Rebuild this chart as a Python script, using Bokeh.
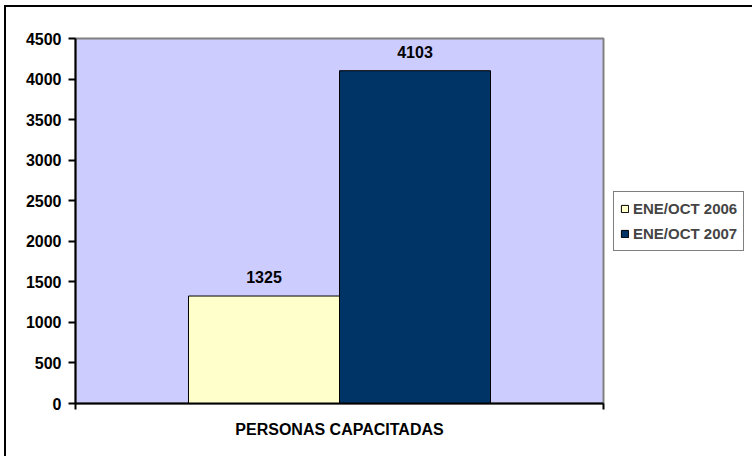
from bokeh.plotting import figure
from bokeh.models import (FactorRange, Range1d, LinearAxis, FixedTicker, Legend,
                          LegendItem, ColumnDataSource)
from bokeh.transform import dodge
from bokeh.core.properties import value
from bokeh.embed import file_html
from bokeh.resources import INLINE

categories = ["PERSONAS CAPACITADAS"]
series = ["ENE/OCT 2006", "ENE/OCT 2007"]
values_2006 = [1325]
values_2007 = [4103]
colors = ["#FFFFCC", "#003366"]
y_ticks = [0, 500, 1000, 1500, 2000, 2500, 3000, 3500, 4000, 4500]

FONT = "Liberation Sans"
FS = "16px"
bar_w = 0.286

p = figure(x_range=FactorRange(factors=categories, range_padding=0),
           y_range=Range1d(0, 4500),
           frame_width=528, frame_height=365,
           min_border_left=69, min_border_right=10,
           min_border_top=31, min_border_bottom=53,
           output_backend="svg", toolbar_location=None,
           x_axis_type=None, y_axis_type=None)

p.styles = {"margin-left": "4px", "margin-top": "5px",
            "border-left": "2px solid #000000", "border-top": "2px solid #000000"}

p.background_fill_color = "#CCCCFF"
p.border_fill_color = "white"
p.outline_line_color = "#808080"
p.outline_line_width = 2
p.xgrid.visible = False
p.ygrid.visible = False

# y axis
yax = LinearAxis(ticker=FixedTicker(ticks=y_ticks))
yax.axis_line_color = "black"
yax.axis_line_width = 2
yax.major_tick_line_color = "black"
yax.major_tick_line_width = 2
yax.major_tick_out = 7
yax.major_tick_in = 0
yax.minor_tick_line_color = None
yax.major_label_text_font = FONT
yax.major_label_text_font_style = "bold"
yax.major_label_text_font_size = FS
yax.major_label_text_color = "black"
yax.major_label_standoff = 7
p.add_layout(yax, "left")

# x axis: ticks at the category edges, category name as label
xax = LinearAxis(ticker=FixedTicker(ticks=[0, len(categories)]))
xax.major_label_overrides = {0: "", len(categories): ""}
xax.major_label_text_font_size = "1px"
xax.axis_line_color = "black"
xax.axis_line_width = 2
xax.major_tick_line_color = "black"
xax.major_tick_line_width = 2
xax.major_tick_out = 6
xax.major_tick_in = 0
xax.minor_tick_line_color = None
xax.axis_label = categories[0]
xax.axis_label_text_font = FONT
xax.axis_label_text_font_style = "bold"
xax.axis_label_text_font_size = FS
xax.axis_label_text_color = "black"
xax.axis_label_standoff = 11
p.add_layout(xax, "below")

src06 = ColumnDataSource(dict(cat=categories, val=values_2006,
                              lbl=[str(v) for v in values_2006]))
src07 = ColumnDataSource(dict(cat=categories, val=values_2007,
                              lbl=[str(v) for v in values_2007]))

r06 = p.vbar(x=dodge("cat", -bar_w / 2, range=p.x_range), top="val", width=bar_w,
             source=src06, fill_color=colors[0], line_color="black", line_width=1)
r07 = p.vbar(x=dodge("cat", bar_w / 2, range=p.x_range), top="val", width=bar_w,
             source=src07, fill_color=colors[1], line_color="black", line_width=1)

for src, off in ((src06, -bar_w / 2), (src07, bar_w / 2)):
    p.text(x=dodge("cat", off, range=p.x_range), y="val", text="lbl", source=src,
           text_align="center", text_baseline="bottom", y_offset=-13,
           text_font=value(FONT), text_font_style="bold",
           text_font_size=FS, text_color="black")

legend = Legend(items=[LegendItem(label=series[0], renderers=[r06]),
                       LegendItem(label=series[1], renderers=[r07])],
                location="left")
legend.label_text_font = FONT
legend.label_text_font_style = "bold"
legend.label_text_font_size = "15px"
legend.glyph_width = 9
legend.glyph_height = 9
legend.label_height = 21
legend.spacing = 4
legend.padding = 6
legend.margin = 10
legend.label_standoff = 4
legend.border_line_color = "black"
legend.border_line_width = 1
legend.background_fill_color = "white"
legend.background_fill_alpha = 1
p.add_layout(legend, "right")

open("out.html", "w").write(file_html(p, INLINE))
